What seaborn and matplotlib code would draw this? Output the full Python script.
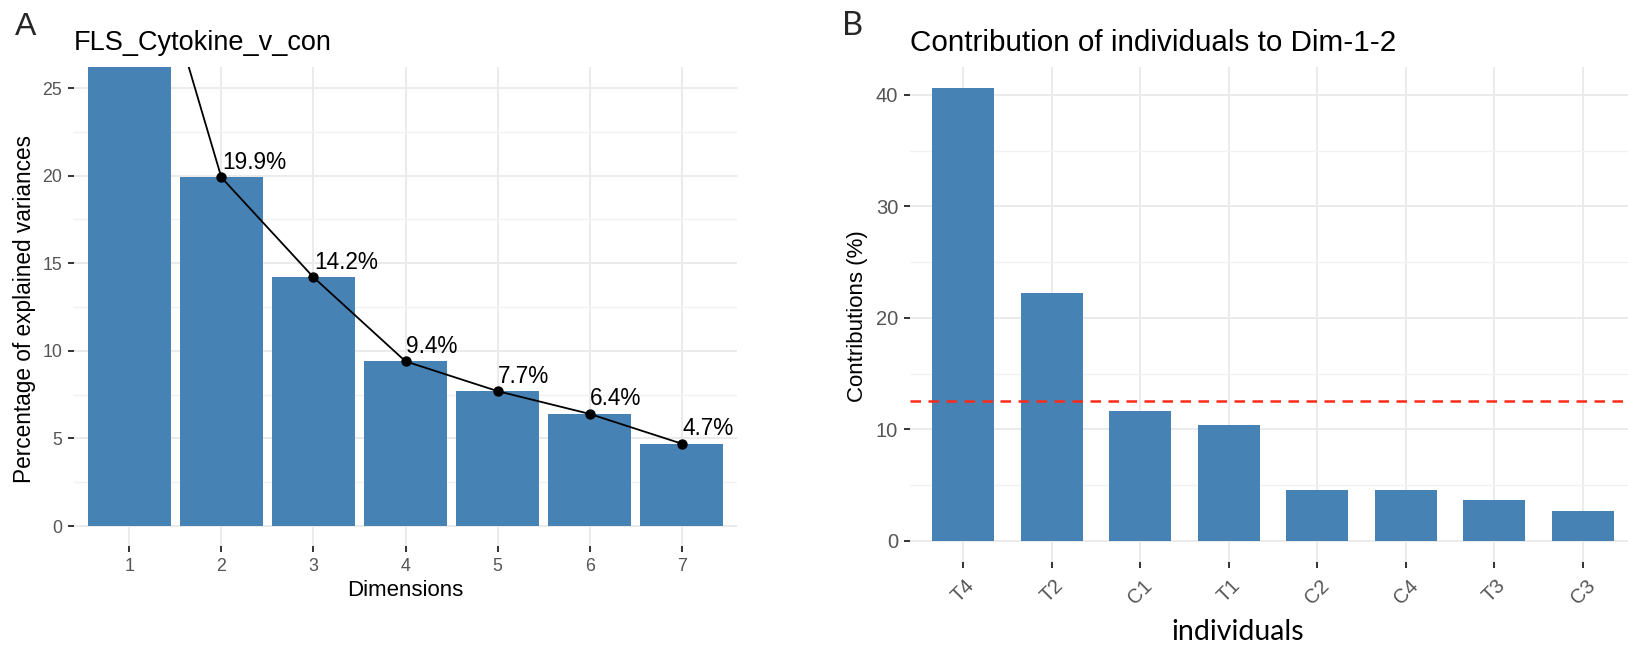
import numpy as np
import pandas as pd
import matplotlib
matplotlib.use("Agg")
import matplotlib.pyplot as plt
import seaborn as sns
from matplotlib.ticker import MultipleLocator

# ---------------- data ----------------
dims = [1, 2, 3, 4, 5, 6, 7]
variances = [37.7, 19.9, 14.2, 9.4, 7.7, 6.4, 4.7]

individuals = ["T4", "T2", "C1", "T1", "C2", "C4", "T3", "C3"]
contributions = [40.6, 22.2, 11.6, 10.4, 4.6, 4.6, 3.7, 2.7]

title_a = "FLS_Cytokine_v_con"
title_b = "Contribution of individuals to Dim-1-2"

# ---------------- style ----------------
sns.set_style("white")
plt.rcParams["font.family"] = ["Liberation Sans", "DejaVu Sans"]

BAR = "#4682B4"
GRID_MAJ = "#EBEBEB"
GRID_MIN = "#F2F2F2"
TICK_C = "#333333"
LAB_C = "#555555"

W, H = 1628, 646
fig = plt.figure(figsize=(W / 100, H / 100), dpi=100)


def rect(l, t, r, b):
    return [l / W, 1 - b / H, (r - l) / W, (b - t) / H]


axA = fig.add_axes(rect(74, 67, 737, 546))
axB = fig.add_axes(rect(910, 67, 1636, 562))

dfA = pd.DataFrame({"dim": dims, "var": variances})
dfB = pd.DataFrame({"ind": individuals, "contrib": contributions})

# ---------------- panel A ----------------
sns.barplot(data=dfA, x="dim", y="var", color=BAR, saturation=1, width=0.9,
            linewidth=0, ax=axA)
sns.pointplot(data=dfA, x="dim", y="var", color="black", markers="o",
              linestyles="-", markersize=6.5, linewidth=1.3, errorbar=None, ax=axA)
for i, v in enumerate(variances):
    axA.annotate(f"{v}%", xy=(i, v), xytext=(0.5, 2.5), textcoords="offset points",
                 ha="left", va="bottom", fontsize=16.3, color="black")

axA.set_xlim(-0.6, 6.6)
axA.set_ylim(-1.14, 26.2)
axA.yaxis.set_major_locator(MultipleLocator(5))
axA.yaxis.set_minor_locator(MultipleLocator(2.5))

# ---------------- panel B ----------------
sns.barplot(data=dfB, x="ind", y="contrib", color=BAR, saturation=1, width=0.7,
            linewidth=0, ax=axB)
expected = 100 / len(individuals)
axB.axhline(expected, color="#FF2A1A", lw=1.8, dashes=(4.2, 3.0), zorder=3)
axB.set_xlim(-0.6, 7.6)
axB.set_ylim(-1.9, 42.5)
axB.yaxis.set_major_locator(MultipleLocator(10))
axB.yaxis.set_minor_locator(MultipleLocator(5))

# ---------------- common styling ----------------
for ax in (axA, axB):
    for s in ax.spines.values():
        s.set_visible(False)
    ax.set_axisbelow(True)
    ax.grid(True, which="major", axis="both", color=GRID_MAJ, lw=1.4)
    ax.grid(True, which="minor", axis="y", color=GRID_MIN, lw=1.0)
    ax.tick_params(which="major", bottom=True, left=True, length=4, width=1.4,
                   color=TICK_C, labelcolor=LAB_C)
    ax.tick_params(which="minor", bottom=False, left=False, length=0)
    ax.set_xlabel("")
    ax.set_ylabel("")

axA.tick_params(axis="both", labelsize=12.8, pad=4.5)
axB.tick_params(axis="y", labelsize=14.5, pad=4.5)
axB.tick_params(axis="x", labelsize=14.5, pad=6)
for lbl in axB.get_xticklabels():
    lbl.set_rotation(45)
    lbl.set_ha("center")
    lbl.set_va("top")

# titles
axA.set_title(title_a, loc="left", fontsize=19.5, pad=12, color="black")
axB.set_title(title_b, loc="left", fontsize=21.3, pad=11.5, color="black")

# axis labels
axA.set_xlabel("Dimensions", fontsize=16, color="black")
axA.xaxis.label.set_va("center")
axA.xaxis.set_label_coords(405.5 / W, 1 - 590 / H, transform=fig.transFigure)
axA.set_ylabel("Percentage of explained variances", fontsize=16.3, color="black")
axA.yaxis.label.set_va("center")
axA.yaxis.set_label_coords(25 / W, 1 - 309 / H, transform=fig.transFigure)

axB.set_ylabel("Contributions (%)", fontsize=16, color="black")
axB.yaxis.label.set_va("center")
axB.yaxis.set_label_coords(858 / W, 1 - 316 / H, transform=fig.transFigure)
axB.set_xlabel("individuals", fontsize=20.5, color="black",
               family=["Lato", "DejaVu Sans"])
axB.xaxis.label.set_va("baseline")
axB.xaxis.set_label_coords(1238 / W, 1 - 640 / H, transform=fig.transFigure)

# panel letters
fig.text(15 / W, 1 - 35 / H, "A", fontsize=23, ha="left", va="baseline")
fig.text(842 / W, 1 - 35 / H, "B", fontsize=23.5, ha="left", va="baseline",
         family=["Lato", "DejaVu Sans"])

fig.savefig("out.png", dpi=100)
